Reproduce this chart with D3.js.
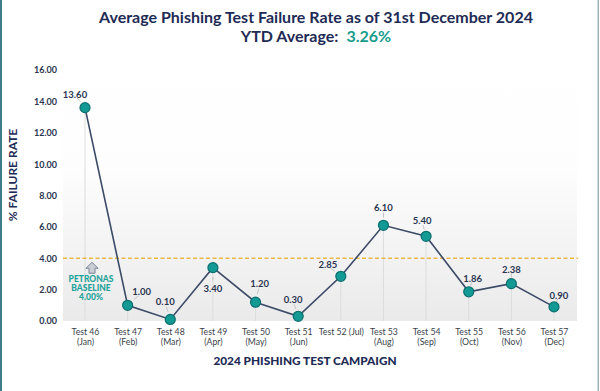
<!DOCTYPE html>
<html>
<head>
<meta charset="utf-8">
<script src="https://cdn.jsdelivr.net/npm/d3@7"></script>
<style>
  body { margin: 0; background: #fff; }
  svg { display: block; font-family: Lato, "Open Sans", sans-serif; }
</style>
</head>
<body>
<div id="chart"></div>
<script>
// data
const tests = ["Test 46", "Test 47", "Test 48", "Test 49", "Test 50", "Test 51",
               "Test 52", "Test 53", "Test 54", "Test 55", "Test 56", "Test 57"];
const months = ["(Jan)", "(Feb)", "(Mar)", "(Apr)", "(May)", "(Jun)",
                "(Jul)", "(Aug)", "(Sep)", "(Oct)", "(Nov)", "(Dec)"];
const failureRate = [13.60, 1.00, 0.10, 3.40, 1.20, 0.30, 2.85, 6.10, 5.40, 1.86, 2.38, 0.90];
const yTicks = [0, 2, 4, 6, 8, 10, 12, 14, 16];
const baseline = 4.00;
const ytdAverage = 3.26;

// label offsets from each point (dx, dy)
const labelOffsets = [[-10, -13], [14, -13], [-5, -17], [0, 21], [4, -18], [-5, -16],
                      [-13, -11], [0, -17], [-4, -15], [4, -13], [0, -14], [5, -11]];

const width = 600;
const height = 391;
const margin = { left: 63, right: 577, top: 70, bottom: 321 };

const svg = d3.select("#chart")
    .append("svg")
    .attr("width", width)
    .attr("height", height);

// frame edges
svg.append("rect").attr("x", 0).attr("y", 0).attr("width", 2).attr("height", height).attr("fill", "#3f7d8c");
svg.append("rect").attr("x", 597.5).attr("y", 0).attr("width", 1.5).attr("height", height).attr("fill", "#9fb2b9");

const x = d3.scalePoint()
    .domain(tests)
    .range([85, 554]);

const y = d3.scaleLinear()
    .domain([0, 16])
    .range([margin.bottom, margin.top]);

// gradient background
const defs = svg.append("defs");
const grad = defs.append("linearGradient")
    .attr("id", "bg")
    .attr("x1", 0).attr("y1", 0).attr("x2", 0).attr("y2", 1);
grad.append("stop").attr("offset", "0%").attr("stop-color", "#ffffff");
grad.append("stop").attr("offset", "40%").attr("stop-color", "#fdfdfd");
grad.append("stop").attr("offset", "100%").attr("stop-color", "#eaeaeb");

svg.append("rect")
    .attr("x", margin.left)
    .attr("y", margin.top)
    .attr("width", margin.right - margin.left)
    .attr("height", margin.bottom - margin.top)
    .attr("fill", "url(#bg)");

// drop lines
svg.selectAll(".drop")
    .data(failureRate)
    .enter()
    .append("line")
    .attr("x1", (d, i) => x(tests[i]))
    .attr("x2", (d, i) => x(tests[i]))
    .attr("y1", d => y(d))
    .attr("y2", y(0))
    .attr("stroke", "#dcdcdc")
    .attr("stroke-width", 1);

// y axis
const yAxis = d3.axisLeft(y)
    .tickValues(yTicks)
    .tickFormat(d3.format(".2f"))
    .tickSize(0)
    .tickPadding(0);

const yg = svg.append("g")
    .attr("transform", "translate(57,0)")
    .call(yAxis);
yg.select(".domain").remove();
yg.selectAll("text")
    .attr("fill", "#2a3550")
    .attr("font-size", 9)
    .attr("font-weight", 700)
    .attr("font-family", "Lato, sans-serif");

// x axis labels
const xAxis = d3.axisBottom(x).tickSize(0).tickFormat("");
const xg = svg.append("g")
    .attr("transform", `translate(0,${margin.bottom})`)
    .call(xAxis);
xg.select(".domain").remove();

xg.selectAll(".tick").each(function (d, i) {
    const t = d3.select(this).append("text")
        .attr("fill", "#3a3f4a")
        .attr("font-size", 8.7)
        .attr("text-anchor", "middle")
        .attr("font-family", "Lato, sans-serif");
    if (months[i] === "(Jul)") {
        t.append("tspan").attr("x", 0).attr("y", 14).text(d + " " + months[i]);
    } else {
        t.append("tspan").attr("x", 0).attr("y", 14).text(d);
        t.append("tspan").attr("x", 0).attr("y", 24).text(months[i]);
    }
});

// baseline
svg.append("line")
    .attr("x1", margin.left)
    .attr("x2", margin.right + 1)
    .attr("y1", y(baseline))
    .attr("y2", y(baseline))
    .attr("stroke", "#e9b847")
    .attr("stroke-width", 1.5)
    .attr("stroke-dasharray", "4,2.5");

// baseline arrow
const ax = 92, ay = y(baseline) + 4;
svg.append("path")
    .attr("d", `M${ax},${ay} L${ax + 6},${ay + 6} L${ax + 3},${ay + 6} L${ax + 3},${ay + 11} L${ax - 3},${ay + 11} L${ax - 3},${ay + 6} L${ax - 6},${ay + 6} Z`)
    .attr("fill", "#c9cdd6")
    .attr("stroke", "#7c8496")
    .attr("stroke-width", 1);

const bl = svg.append("text")
    .attr("text-anchor", "middle")
    .attr("fill", "#1fa39a")
    .attr("font-size", 8.5)
    .attr("font-weight", 900)
    .attr("font-family", "Lato, sans-serif");
bl.append("tspan").attr("x", 91).attr("y", 282).text("PETRONAS");
bl.append("tspan").attr("x", 91).attr("y", 291).text("BASELINE");
bl.append("tspan").attr("x", 91).attr("y", 300).text(baseline.toFixed(2) + "%");

// line
const line = d3.line()
    .x((d, i) => x(tests[i]))
    .y(d => y(d));

svg.append("path")
    .datum(failureRate)
    .attr("d", line)
    .attr("fill", "none")
    .attr("stroke", "#3b4a66")
    .attr("stroke-width", 1.6);

// leader lines
svg.selectAll(".leader")
    .data(failureRate)
    .enter()
    .append("line")
    .attr("x1", (d, i) => x(tests[i]) + labelOffsets[i][0] * 0.45)
    .attr("y1", (d, i) => y(d) + labelOffsets[i][1] * 0.45)
    .attr("x2", (d, i) => x(tests[i]) + labelOffsets[i][0] * 0.8)
    .attr("y2", (d, i) => y(d) + labelOffsets[i][1] * (labelOffsets[i][1] > 0 ? 0.6 : 0.75))
    .attr("stroke", "#b8b8b8")
    .attr("stroke-width", 0.8);

// points
svg.selectAll(".pt")
    .data(failureRate)
    .enter()
    .append("circle")
    .attr("cx", (d, i) => x(tests[i]))
    .attr("cy", d => y(d))
    .attr("r", 5)
    .attr("fill", "#149a94")
    .attr("stroke", "#0d6f70")
    .attr("stroke-width", 1.2);

// value labels
svg.selectAll(".val")
    .data(failureRate)
    .enter()
    .append("text")
    .attr("x", (d, i) => x(tests[i]) + labelOffsets[i][0])
    .attr("y", (d, i) => y(d) + labelOffsets[i][1] + 3)
    .attr("text-anchor", "middle")
    .attr("fill", "#2a3550")
    .attr("font-size", 9.5)
    .attr("font-weight", 700)
    .attr("font-family", "Lato, sans-serif")
    .text(d => d.toFixed(2));

// axis titles
svg.append("text")
    .attr("transform", "translate(17,175) rotate(-90)")
    .attr("text-anchor", "middle")
    .attr("fill", "#1e2b55")
    .attr("font-size", 12)
    .attr("font-weight", 700)
    .attr("font-family", "Lato, sans-serif")
    .text("% FAILURE RATE");

svg.append("text")
    .attr("x", 305)
    .attr("y", 365)
    .attr("text-anchor", "middle")
    .attr("fill", "#1e2b55")
    .attr("font-size", 11.8)
    .attr("font-weight", 900)
    .attr("font-family", "Lato, sans-serif")
    .text("2024 PHISHING TEST CAMPAIGN");

// title
svg.append("text")
    .attr("x", 316)
    .attr("y", 23)
    .attr("text-anchor", "middle")
    .attr("fill", "#1e2b55")
    .attr("font-size", 16)
    .attr("font-weight", 700)
    .attr("font-family", "Lato, sans-serif")
    .text("Average Phishing Test Failure Rate as of 31st December 2024");

const sub = svg.append("text")
    .attr("x", 316)
    .attr("y", 42)
    .attr("text-anchor", "middle")
    .attr("font-size", 16)
    .attr("font-weight", 700)
    .attr("font-family", "Lato, sans-serif");
sub.append("tspan").attr("fill", "#1e2b55").text("YTD Average:");
sub.append("tspan").attr("fill", "#179b8c").attr("dx", 8).text(ytdAverage.toFixed(2) + "%");
</script>
</body>
</html>
